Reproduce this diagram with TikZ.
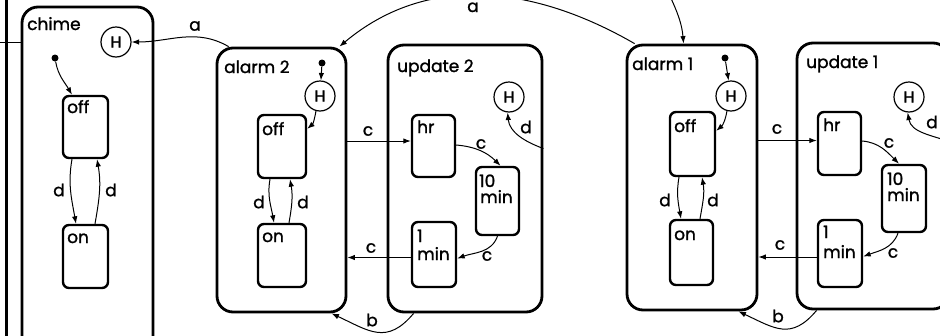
\documentclass[tikz,border=0pt]{standalone}
\usepackage{fontspec}
\setmainfont[FakeBold=1.3]{Poppins}
\usetikzlibrary{arrows.meta}
\begin{document}
\begin{tikzpicture}[x=1pt,y=1pt,
  bigbox/.style={draw, line width=2.8pt, rounded corners=16pt, inner sep=0pt},
  smallbox/.style={draw, line width=2.4pt, rounded corners=6pt, inner sep=0pt},
  hist/.style={draw, circle, line width=1.2pt, minimum size=30pt, inner sep=0pt, font=\fontsize{16}{16}\selectfont},
  initdot/.style={circle, fill, inner sep=0pt, minimum size=7pt},
  arr/.style={line width=1pt, -{Latex[length=7.5pt,width=5.5pt]}},
  ln/.style={line width=1pt},
  txt/.style={inner sep=0pt, font=\fontsize{17}{17}\selectfont},
  ttl/.style={txt, anchor=base west},
]
\useasboundingbox (0,0) rectangle (940,-335);

% outer border on the left
\draw[line width=3pt] (6.5,5) -- (6.5,-340);

% big states
\node[bigbox, minimum width=131pt, minimum height=370pt] (chime) at (87.5,-192) {};
\node[bigbox, minimum width=129pt, minimum height=264pt] (alarm2) at (281.5,-180) {};
\node[bigbox, minimum width=154pt, minimum height=267pt] (update2) at (465,-178.5) {};
\node[bigbox, minimum width=130pt, minimum height=265pt] (alarm1) at (692,-177.5) {};
\node[bigbox, minimum width=152pt, minimum height=266pt] (update1) at (873,-176) {};

% titles
\node[ttl] (tchime) at (27,-30) {chime};
\node[ttl] (talarm2) at (224,-73) {alarm 2};
\node[ttl] (tupdate2) at (397,-72) {update 2};
\node[ttl] (talarm1) at (632,-70) {alarm 1};
\node[ttl] (tupdate1) at (806,-68) {update 1};

% small states
\node[smallbox, minimum width=45pt, minimum height=62pt] (chimeoff) at (85.5,-127) {};
\node[smallbox, minimum width=45pt, minimum height=63pt] (chimeon) at (85.5,-256.5) {};
\node[smallbox, minimum width=48pt, minimum height=63pt] (a2off) at (282,-146.5) {};
\node[smallbox, minimum width=48pt, minimum height=63pt] (a2on) at (282,-255.5) {};
\node[smallbox, minimum width=43pt, minimum height=62pt] (u2hr) at (433.5,-146) {};
\node[smallbox, minimum width=43pt, minimum height=68pt] (u2ten) at (497.5,-201) {};
\node[smallbox, minimum width=44pt, minimum height=65pt] (u2one) at (434,-254.5) {};
\node[smallbox, minimum width=45pt, minimum height=64pt] (a1off) at (692.5,-144) {};
\node[smallbox, minimum width=43pt, minimum height=65pt] (a1on) at (691.5,-252.5) {};
\node[smallbox, minimum width=43pt, minimum height=63pt] (u1hr) at (839.5,-143.5) {};
\node[smallbox, minimum width=44pt, minimum height=67pt] (u1ten) at (904,-198.5) {};
\node[smallbox, minimum width=44pt, minimum height=67pt] (u1one) at (840,-253.5) {};

% texts of small states
\node[ttl] (lchimeoff) at (67,-113) {off};
\node[ttl] (lchimeon) at (67,-243) {on};
\node[ttl] (la2off) at (262,-135) {off};
\node[ttl] (la2on) at (262,-242) {on};
\node[ttl] (lu2hr) at (417,-133) {hr};
\node[ttl] (lu2tenA) at (479,-187) {10};
\node[ttl] (lu2tenB) at (480,-203) {min};
\node[ttl] (lu2oneA) at (417,-242) {1};
\node[ttl] (lu2oneB) at (417,-260) {min};
\node[ttl] (la1off) at (674,-132) {off};
\node[ttl] (la1on) at (674,-240) {on};
\node[ttl] (lu1hr) at (823,-131) {hr};
\node[ttl] (lu1tenA) at (887,-185) {10};
\node[ttl] (lu1tenB) at (887,-201) {min};
\node[ttl] (lu1oneA) at (823,-238) {1};
\node[ttl] (lu1oneB) at (823,-258) {min};

% history connectors and initial dots
\node[hist] (chimeH) at (116,-42) {H};
\node[hist] (a2H) at (320,-96) {H};
\node[hist] (u2H) at (509,-97) {H};
\node[hist] (a1H) at (731,-96) {H};
\node[hist] (u1H) at (909,-97) {H};
\node[initdot] (chimeinit) at (55,-58) {};
\node[initdot] (a2init) at (322,-63) {};
\node[initdot] (a1init) at (725,-58) {};

% left stub
\coordinate (leftend) at (0,-42);
\draw[ln] (leftend) -- (chime.west |- leftend);

% chime transitions
\draw[arr] (chimeinit) to[out=-80,in=120] ([xshift=-13.5pt]chimeoff.north);
\draw[arr] ([xshift=-13.5pt]chimeoff.south) to[out=-100,in=100] ([xshift=-9.5pt]chimeon.north);
\draw[arr] ([xshift=9.5pt]chimeon.north) to[out=80,in=-80] ([xshift=11.5pt]chimeoff.south);
\node[txt] (dc1) at (59,-190) {d};
\node[txt] (dc2) at (111,-190) {d};
\draw[arr] ([xshift=13pt]alarm2.north west) to[out=150,in=0] (chimeH.east);
\node[txt] (la) at (195,-26) {a};

% top arcs
\draw[arr] ([xshift=9pt]alarm1.north west) to[out=150,in=40] ([xshift=-8pt]alarm2.north east);
\node[txt, anchor=base] (latop) at (473,-12) {a};
\coordinate (topin) at (669,6);
\draw[arr] (topin) to[out=-65,in=95] ([xshift=58pt]alarm1.north west);

% alarm 2
\draw[arr] (a2init) -- (a2H);
\draw[arr] (a2H.255) to[out=-100,in=40] ([yshift=-15pt]a2off.north east);
\draw[arr] ([xshift=-12pt]a2off.south) to[out=-100,in=100] ([xshift=-8pt]a2on.north);
\draw[arr] ([xshift=7pt]a2on.north) to[out=80,in=-80] ([xshift=8pt]a2off.south);
\node[txt] (da1) at (259,-202) {d};
\node[txt] (da2) at (303,-202) {d};

% alarm 2 <-> update 2
\coordinate (c2a) at ([yshift=5pt]u2hr.west);
\draw[arr] (alarm2.east |- c2a) -- (c2a);
\node[txt] (lc2a) at (368,-131) {c};
\coordinate (c2b) at ([yshift=-3pt]u2one.west);
\draw[arr] (c2b) -- (alarm2.east |- c2b);
\node[txt] (lc2b) at (371,-248) {c};
\draw[arr] ([xshift=27pt]update2.south west) to[out=-130,in=-25,looseness=1.3] ([xshift=-16pt]alarm2.south east);
\node[txt] (lb2) at (372,-320) {b};

% update 2
\draw[arr] ([yshift=30pt]update2.east) to[out=160,in=-85] (u2H.265);
\node[txt] (du2) at (526,-127) {d};
\draw[arr] ([yshift=1pt]u2hr.east) to[out=-5,in=135] ([xshift=3pt]u2ten.north);
\node[txt] (lc2c) at (481,-144) {c};
\draw[arr] (u2ten.south) to[out=-110,in=20] ([yshift=-4pt]u2one.east);
\node[txt] (lc2d) at (487,-256) {c};

% alarm 1
\draw[arr] (a1init) -- (a1H);
\draw[arr] (a1H.255) to[out=-100,in=40] ([yshift=-20pt]a1off.north east);
\draw[arr] ([xshift=-13.5pt]a1off.south) to[out=-100,in=100] ([xshift=-10.5pt]a1on.north);
\draw[arr] ([xshift=8.5pt]a1on.north) to[out=80,in=-80] ([xshift=9.5pt]a1off.south);
\node[txt] (dd1) at (665,-200) {d};
\node[txt] (dd2) at (713,-200) {d};

% alarm 1 <-> update 1
\coordinate (c1a) at ([yshift=3pt]u1hr.west);
\draw[arr] (alarm1.east |- c1a) -- (c1a);
\node[txt] (lc1a) at (777,-129) {c};
\coordinate (c1b) at ([yshift=-3.5pt]u1one.west);
\draw[arr] (c1b) -- (alarm1.east |- c1b);
\node[txt] (lc1b) at (780,-245) {c};
\draw[arr] ([xshift=21pt]update1.south west) to[out=-130,in=-25,looseness=1.3] ([xshift=-20pt]alarm1.south east);
\node[txt] (lb1) at (778,-316) {b};

% update 1
\draw[arr] ([yshift=34pt]update1.east) to[out=160,in=-80] (u1H.265);
\node[txt] (du1) at (932,-122) {d};
\draw[arr] ([yshift=2.5pt]u1hr.east) to[out=-5,in=135] ([xshift=-5pt]u1ten.north);
\node[txt] (lc1c) at (889,-143) {c};
\draw[arr] ([xshift=-6pt]u1ten.south) to[out=-110,in=20] ([yshift=-3pt]u1one.east);
\node[txt] (lc1d) at (893,-253) {c};
\end{tikzpicture}
\end{document}
